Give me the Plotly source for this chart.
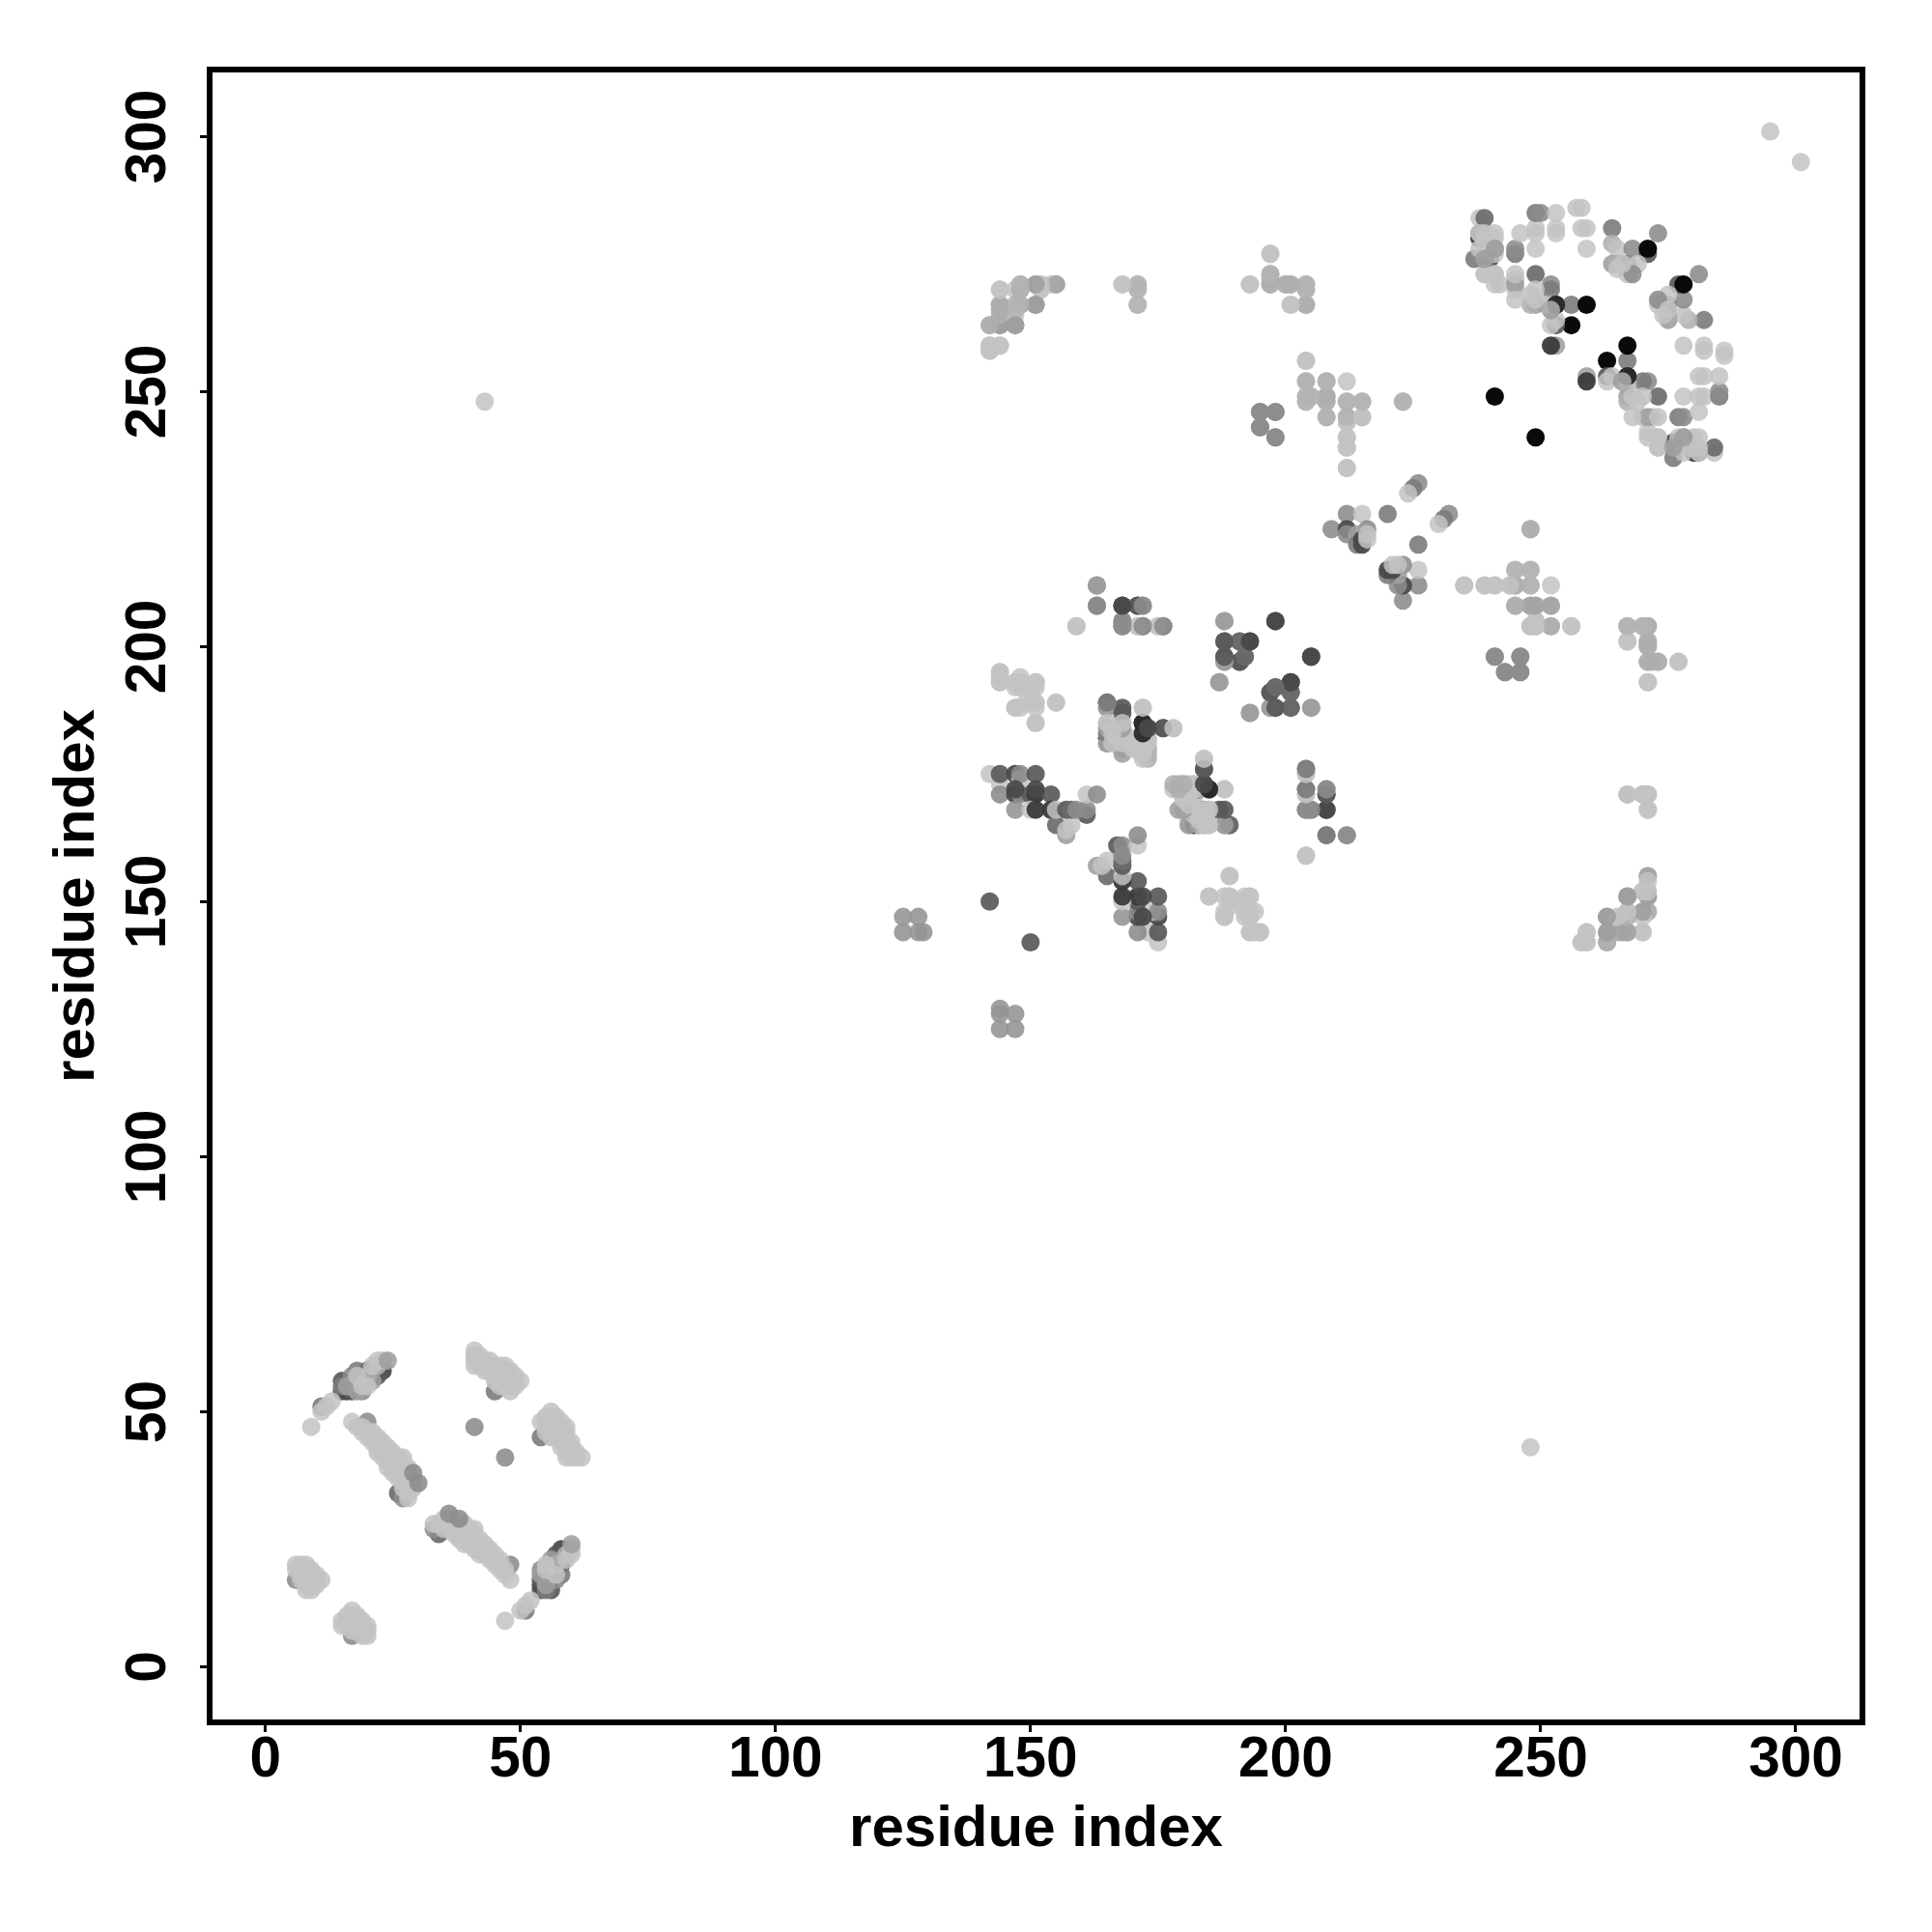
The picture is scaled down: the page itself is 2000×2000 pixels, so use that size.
import plotly.graph_objects as go

tick_values = [0, 50, 100, 150, 200, 250, 300]
axis_label = "residue index"
L = 204  # shade of the faintest contacts

# Contacts are stored once as residue pairs (i < j), shade = grey level seen on white.
a_i = [6, 6, 7, 8, 6, 7, 8, 9, 7, 8, 9, 10, 7, 8, 9, 10, 11, 8, 9, 10, 8, 9]
a_j = [17, 20, 20, 20, 19, 19, 19, 19, 18, 18, 18, 18, 17, 17, 17, 17, 17, 16, 16, 16, 15, 15]
a_g = [153] + [L] * 21

b_i = [26, 27, 17, 20, 18, 19, 19, 20, 20, 21, 21, 21, 22, 22, 22, 22, 23, 23, 23, 23, 24, 24, 24, 24, 24,
       25, 25, 25, 25, 25, 26, 26, 26, 26, 26, 27, 27, 27, 27, 27, 27, 27, 28, 28, 28, 28, 28, 28, 28, 29, 29, 29, 30]
b_j = [34, 33, 48, 48, 47, 47, 46, 46, 45, 46, 45, 44, 45, 44, 43, 42, 44, 43, 42, 41, 43, 42, 41, 40, 39,
       42, 41, 40, 39, 38, 41, 40, 39, 38, 37, 41, 40, 39, 38, 37, 36, 35, 39, 38, 37, 36, 35, 34, 33, 36, 35, 38, 36]
b_g = [119, 153, L, 153] + [L] * 47 + [153, 153]

c_i = [15, 16, 17, 15, 20, 23, 22, 19, 15, 18, 21, 11, 17, 19, 16, 18, 21, 20, 22, 9, 11, 12, 13, 18, 19, 20, 21, 22, 23, 24]
c_j = [54, 54, 54, 56, 58, 58, 57, 56, 55, 58, 58, 51, 57, 54, 55, 54, 56, 57, 59, 47, 50, 51, 52, 57, 55, 55, 59, 60, 60, 60]
c_g = [102, 85, 102, 102, 85, 85, 102, 102, 136, 136, 136, 136, 153, 153, 170, 170, 170, 185, 185, L, L, L, L, L, L, L, L, L, L, 170]

d_i = [41, 45, 41, 41, 41, 41, 42, 42, 42, 43, 43, 43, 44, 44, 44, 45, 45, 45, 45, 46, 46, 46, 46, 46, 47, 47, 47, 47, 48, 48, 48, 48, 48, 49, 49, 49, 50]
d_j = [47, 54, 62, 61, 60, 59, 61, 60, 59, 60, 59, 58, 60, 59, 58, 59, 58, 57, 56, 59, 58, 57, 56, 55, 59, 58, 56, 55, 58, 57, 56, 55, 54, 57, 56, 55, 56]
d_g = [153, 136] + [L] * 35

e_i = [125, 128, 125, 128, 129, 142, 43, 295]
e_j = [147, 147, 144, 144, 144, 150, 248, 301]
e_g = [160, 160, 160, 160, 160, 102, L, L]

f_i = [142, 144, 144, 147, 148, 148, 151, 144, 147, 148, 150, 151, 154, 147, 151, 147, 150, 151, 154, 155, 155, 157, 157, 158, 157, 161, 158, 159, 161, 161, 163]
f_j = [175, 173, 175, 175, 174, 175, 175, 171, 171, 171, 171, 171, 171, 168, 172, 172, 168, 168, 168, 165, 168, 163, 164, 165, 168, 167, 168, 168, 168, 171, 171]
f_g = [L, L, 102, 85, L, 153, 102, 153, 85, 153, 102, 68, 102, 160, 85, 85, L, 68, 68, 119, L, 170, L, L, 102, 102, 120, 153, 153, L, 153]

g_i = [144, 144, 144, 147, 148, 151, 147, 151, 147, 148, 151, 155, 151, 151, 148, 150]
g_j = [195, 194, 193, 193, 193, 193, 192, 192, 188, 188, 189, 189, 188, 185, 192, 191]
g_g = [L] * 16

h_i = [163, 163, 159, 168, 171, 172, 168, 168, 171, 172, 175, 176]
h_j = [212, 208, 204, 208, 208, 208, 205, 204, 204, 204, 204, 204]
h_g = [153, 136, L, 85, 102, 153, 153, 153, L, 136, L, 136]

m_i = [165, 165, 168, 172, 165, 165, 165, 165, 165, 166, 167, 168, 168, 168, 168, 169, 170, 171, 172, 172, 172, 172, 173, 173, 173, 172, 173, 176, 178]
m_j = [189, 188, 188, 188, 182, 185, 184, 183, 181, 183, 182, 185, 183, 182, 180, 181, 180, 181, 183, 182, 181, 179, 182, 180, 178, 185, 184, 184, 184]
m_g = [119, 170, 102, L, 68, L, L, L, 170, L, L, L, L, L, 170, L, L, L, L, L, L, 185, L, 185, 185, 50, 85, 102, L]

n_i = [179, 181, 183, 184, 188, 189, 187, 178, 179, 180, 181, 182, 180, 181, 182, 179, 180, 181, 182, 180, 181, 182, 181, 182, 183, 184, 185, 181, 183, 184, 185, 184, 183, 185, 188, 184, 184]
n_j = [168, 165, 165, 165, 165, 165, 168, 172, 173, 173, 173, 173, 172, 172, 172, 172, 171, 171, 170, 170, 169, 169, 168, 167, 167, 168, 168, 166, 166, 166, 165, 176, 172, 172, 172, 178, 173]
n_g = [170, 170, 136, 170, 170, 136, 102, L, 190, 190, L, L, L, L, L, L, L, L, L, L, L, L, L, L, L, 170, L, L, L, L, L, 102, 50, 50, L, L, 85]

o_i = [188, 188, 191, 193, 188, 188, 191, 192, 205, 187, 197, 198, 201, 201, 197, 198, 201, 205, 193, 198]
o_j = [205, 201, 201, 201, 197, 198, 197, 198, 198, 193, 191, 192, 191, 193, 188, 188, 188, 188, 187, 205]
o_g = [170, 119, 119, 85, 170, 102, 102, 119, 85, 170, 102, 119, 119, 85, 170, 102, 102, 170, 170, 85]

p_i = [204, 204, 204, 204, 204, 205, 208, 208, 208, 208, 212, 204, 189, 185, 189, 193, 188, 193, 193, 195, 194, 189]
p_j = [175, 176, 171, 172, 168, 168, 171, 172, 168, 163, 163, 159, 155, 151, 151, 151, 147, 147, 144, 144, 148, 149]
p_g = [L, 153, L, 153, 153, 153, 102, 153, 85, 153, 170, L, L, L, L, L, L, L, L, L, L, L]

q_i = [144, 148, 147, 148, 151, 152, 152, 155, 154, 144, 144, 147, 148, 151, 147, 142, 144, 147, 142, 142, 144]
q_j = [270, 271, 270, 270, 271, 271, 270, 271, 271, 267, 266, 267, 267, 267, 265, 263, 263, 263, 259, 258, 259]
q_g = [L, 185, L, 170, 170, L, L, 176, L, 176, 176, 185, L, 170, L, 185, 170, 170, L, L, L]

r_i = [168, 171, 171, 171, 193, 197, 197, 197, 197, 200, 201, 204, 204, 201, 204]
r_j = [271, 271, 270, 267, 271, 277, 273, 272, 271, 271, 271, 271, 270, 267, 267]
r_g = [L, L, L, L, L, L, 185, 185, 185, 185, 185, 185, 190, L, 190]

s_i = [204, 204, 208, 212, 204, 204, 205, 208, 208, 208, 212, 215, 212, 215, 212, 212, 212, 212, 223, 195, 198, 195, 198]
s_j = [256, 252, 252, 252, 249, 248, 249, 249, 248, 245, 248, 248, 245, 245, 244, 241, 239, 235, 248, 246, 246, 243, 241]
s_g = [L, 185, 176, L, L, L, L, 176, 176, 185, 190, 190, 185, 190, L, L, L, L, 185, 153, 153, 153, 153]

t_i = [226, 225, 224, 212, 215, 220, 209, 212, 216, 212, 214, 214, 215, 215, 216, 216]
t_j = [232, 231, 230, 226, 226, 226, 223, 223, 223, 222, 222, 220, 220, 221, 222, 221]
t_g = [153, 136, L, 153, L, 136, 153, 85, 153, 153, 170, 136, 85, 85, L, L]

u_i = [235, 239, 241, 244, 245, 248, 245, 248, 245, 248, 249, 252, 248, 249, 249, 252, 256, 248, 241, 246, 243, 246, 267, 270, 271, 267, 271, 271, 271, 273, 277, 271]
u_j = [212, 212, 212, 212, 212, 212, 215, 215, 208, 208, 208, 208, 204, 204, 205, 204, 204, 223, 198, 198, 195, 195, 204, 204, 204, 201, 201, 200, 197, 197, 197, 193]
u_g = [L, L, L, L, 190, 190, L, 190, 190, 190, 185, 190, 190, 190, 190, 190, L, 190, 153, 153, 153, 153, 185, 190, 190, L, 185, 185, 185, 190, L, L]

v_i = [267, 270, 271, 271, 271, 270, 271, 271, 267, 267, 266, 270, 271, 263, 263, 265, 267, 270, 259, 258, 259, 263]
v_j = [171, 171, 171, 168, 155, 152, 152, 151, 151, 148, 147, 148, 148, 147, 144, 144, 144, 144, 144, 142, 142, 142]
v_g = [190, 190, 190, L, 176, L, L, 170, 170, 185, 190, 190, 190, 170, 170, 185, 185, L, L, L, L, 185]

w_i = [238, 239, 238, 238, 239, 241, 241, 241, 239, 237, 240, 239, 241, 245, 245, 246, 249, 249, 249, 249, 250, 253, 253, 253,
       257, 258, 258, 259, 259, 264, 273, 264, 265, 264, 265, 268, 271, 271, 267, 269, 267, 265, 268, 266]
w_j = [284, 284, 280, 281, 281, 281, 280, 278, 279, 276, 276, 276, 277, 277, 278, 281, 281, 282, 278, 285, 285, 285, 282, 281,
       286, 286, 282, 282, 278, 282, 281, 279, 278, 275, 275, 278, 277, 278, 275, 275, 273, 274, 273, 275]
w_g = [L, 119, 68, 153, L, L, L, 170, L, 136, 85, 170, L, 136, 153, L, L, L, L, 136, 153, L, L, L,
       L, L, L, L, L, 136, 153, 185, L, 170, 185, 153, 102, 10, 153, L, L, L, 153, L]

x_i = [249, 252, 252, 252, 253, 256, 259, 256, 253, 253, 252, 253, 252, 252, 251, 249, 248, 245, 245, 242, 241, 239, 239, 238, 238, 241, 241, 245, 245, 245, 241, 239, 249, 248, 249, 253, 252, 241]
x_j = [273, 271, 270, 267, 267, 267, 267, 263, 263, 264, 263, 259, 259, 266, 267, 267, 267, 270, 272, 271, 273, 273, 273, 278, 281, 271, 273, 271, 273, 268, 278, 276, 270, 269, 268, 267, 266, 249]
x_g = [119, 153, 136, 185, 50, 136, 10, 10, 102, L, L, 170, 68, 102, L, 170, 185, L, L, L, L, L, L, L, L, L, L, 170, L, L, 170, 170, L, L, L, 50, 185, 10]

groups = [(a_i, a_j, a_g), (b_i, b_j, b_g), (c_i, c_j, c_g), (d_i, d_j, d_g), (e_i, e_j, e_g), (f_i, f_j, f_g),
          (g_i, g_j, g_g), (h_i, h_j, h_g), (m_i, m_j, m_g), (n_i, n_j, n_g), (o_i, o_j, o_g), (p_i, p_j, p_g),
          (q_i, q_j, q_g), (r_i, r_j, r_g), (s_i, s_j, s_g), (t_i, t_j, t_g), (u_i, u_j, u_g), (v_i, v_j, v_g),
          (w_i, w_j, w_g), (x_i, x_j, x_g)]

res_i, res_j, shade = [], [], []
for n, (gi, gj, gg) in enumerate(groups):
    assert len(gi) == len(gj) == len(gg), (n, len(gi), len(gj), len(gg))
    res_i += gi
    res_j += gj
    shade += gg


def rgba(d):
    a = 1 - 0.15 * d / 200
    c = max(0, round((d - 255 * (1 - a)) / a))
    return f"rgba({c},{c},{c},{a:.3f})"


colors = [rgba(d) for d in shade]

fig = go.Figure(go.Scatter(
    x=res_i + res_j, y=res_j + res_i, mode="markers",
    marker=dict(size=19, color=colors + colors, line=dict(width=0)),
    hoverinfo="x+y", showlegend=False,
))

title_font = dict(family="Liberation Sans", size=60, color="black", weight=700)
axis_common = dict(
    tickvals=tick_values, ticktext=[str(v) for v in tick_values],
    showgrid=False, zeroline=False, showline=True, mirror=True, linecolor="black", linewidth=5.5,
    ticks="outside", ticklen=7, tickwidth=3, tickcolor="black",
    tickfont=dict(family="Liberation Sans", size=58.5, color="black", weight=700),
    automargin=False,
)
fig.update_xaxes(**axis_common, range=[-10.35, 312.5], ticklabelstandoff=-24,
                 title=dict(text=axis_label, standoff=21, font=title_font))
fig.update_yaxes(**axis_common, range=[-10.36, 312.55], tickangle=-90, ticklabelstandoff=13,
                 ticklabelshift=9,
                 title=dict(text=axis_label, standoff=3, font=title_font))
fig.update_layout(
    width=2000, height=2000, paper_bgcolor="white", plot_bgcolor="white",
    margin=dict(l=219.5, r=74.5, t=74.5, b=219.5, autoexpand=False),
)
fig.write_html("out.html", post_script="document.body.style.margin='0';",
               config={"displayModeBar": False})
